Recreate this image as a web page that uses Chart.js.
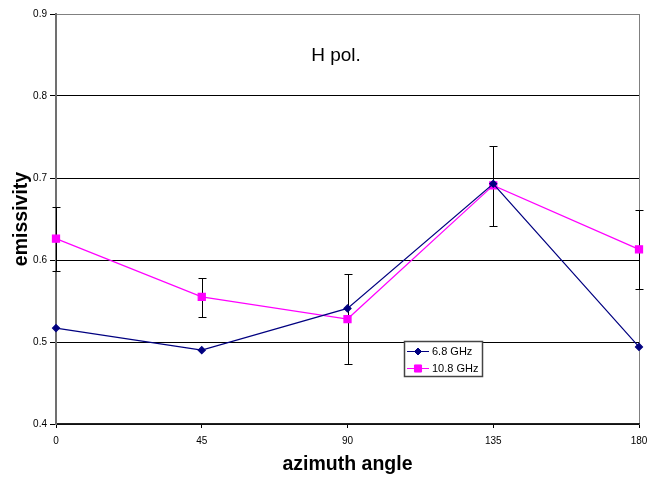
<!DOCTYPE html>
<html>
<head>
<meta charset="utf-8">
<script src="https://cdn.jsdelivr.net/npm/chart.js@4/dist/chart.umd.min.js"></script>
<style>
  body { margin: 0; background: #fff; }
  #grafico { display: block; }
</style>
</head>
<body>
<canvas id="grafico" width="659" height="479"></canvas>
<script>
// dados
const angulos = [0, 45, 90, 135, 180];
const emis68 = [0.517, 0.490, 0.541, 0.693, 0.494];
const emis108 = [0.626, 0.555, 0.528, 0.691, 0.613];
const erroAlto108 = [0.665, 0.578, 0.583, 0.739, 0.661];
const erroBaixo108 = [0.587, 0.531, 0.473, 0.642, 0.565];
const ticksX = [0, 45, 90, 135, 180];
const ticksY = [0.4, 0.5, 0.6, 0.7, 0.8, 0.9];

const FONTE = '"Liberation Sans", Arial, sans-serif';
const AZUL = "#000080";
const ROSA = "#FF00FF";

const pontos = (ys) => angulos.map((a, i) => ({ x: a, y: ys[i] }));

// barras de erro da série 10.8 GHz
const pluginErro = {
  id: "barrasErro",
  beforeDatasetsDraw(chart) {
    const { ctx, scales } = chart;
    ctx.save();
    ctx.strokeStyle = "#000";
    ctx.lineWidth = 1;
    angulos.forEach((a, i) => {
      const x = Math.round(scales.x.getPixelForValue(a)) + 0.5;
      const yA = Math.round(scales.y.getPixelForValue(erroAlto108[i])) + 0.5;
      const yB = Math.round(scales.y.getPixelForValue(erroBaixo108[i])) + 0.5;
      ctx.beginPath();
      ctx.moveTo(x, yA);
      ctx.lineTo(x, yB);
      ctx.moveTo(x - 4, yA);
      ctx.lineTo(x + 4, yA);
      ctx.moveTo(x - 4, yB);
      ctx.lineTo(x + 4, yB);
      ctx.stroke();
    });
    ctx.restore();
  },
};

// texto "H pol." e legenda dentro da área do gráfico
const pluginExtras = {
  id: "extras",
  afterDraw(chart) {
    const ctx = chart.ctx;
    ctx.save();
    ctx.fillStyle = "#000";
    ctx.font = "19px " + FONTE;
    ctx.textAlign = "center";
    ctx.textBaseline = "alphabetic";
    ctx.fillText("H pol.", 336, 61);

    // caixa da legenda
    ctx.fillStyle = "#fff";
    ctx.fillRect(404, 341, 78, 35);
    ctx.strokeStyle = "#444";
    ctx.lineWidth = 1.5;
    ctx.strokeRect(404.5, 341.5, 78, 35);

    chart.data.datasets.forEach((ds, i) => {
      const y = 351 + i * 17;
      ctx.strokeStyle = ds.borderColor;
      ctx.lineWidth = 1;
      ctx.beginPath();
      ctx.moveTo(407, y + 0.5);
      ctx.lineTo(429, y + 0.5);
      ctx.stroke();
      ctx.fillStyle = ds.pointBackgroundColor;
      ctx.strokeStyle = ds.pointBorderColor;
      Chart.helpers.drawPoint(
        ctx,
        { pointStyle: ds.pointStyle, radius: ds.pointRadius, rotation: 0, borderWidth: 1 },
        418,
        y + 0.5
      );
      ctx.fillStyle = "#000";
      ctx.font = "11px " + FONTE;
      ctx.textAlign = "left";
      ctx.textBaseline = "middle";
      ctx.fillText(ds.label, 432, y + 1);
    });
    ctx.restore();
  },
};

new Chart(document.getElementById("grafico").getContext("2d"), {
  type: "line",
  data: {
    datasets: [
      {
        label: "6.8 GHz",
        data: pontos(emis68),
        borderColor: AZUL,
        backgroundColor: AZUL,
        pointBackgroundColor: AZUL,
        pointBorderColor: AZUL,
        pointStyle: "rectRot",
        pointRadius: 3.5,
        borderWidth: 1.2,
        tension: 0,
        clip: false,
      },
      {
        label: "10.8 GHz",
        data: pontos(emis108),
        borderColor: ROSA,
        backgroundColor: ROSA,
        pointBackgroundColor: ROSA,
        pointBorderColor: ROSA,
        pointStyle: "rect",
        pointRadius: 5,
        borderWidth: 1.2,
        tension: 0,
        clip: false,
      },
    ],
  },
  options: {
    responsive: false,
    animation: false,
    layout: { padding: { left: 0, right: 20, top: 14, bottom: 0 } },
    plugins: {
      legend: { display: false },
      tooltip: { enabled: false },
    },
    scales: {
      x: {
        type: "linear",
        min: 0,
        max: 180,
        afterFit: (s) => { s.height = 55; },
        afterBuildTicks: (s) => { s.ticks = ticksX.map((v) => ({ value: v })); },
        ticks: {
          color: "#000",
          font: { family: FONTE, size: 10 },
          padding: 7,
          maxRotation: 0,
        },
        grid: {
          drawOnChartArea: true,
          color: (c) => (c.tick && c.tick.value === 180 ? "#808080" : "rgba(0,0,0,0)"),
          tickColor: "#000",
          tickLength: 4,
        },
        border: { color: "#222", width: 1.5 },
        title: {
          display: true,
          text: "azimuth angle",
          color: "#000",
          font: { family: FONTE, size: 19.5, weight: "bold" },
          padding: { top: 0, bottom: 3 },
        },
      },
      y: {
        min: 0.4,
        max: 0.9,
        afterFit: (s) => { s.width = 56; },
        afterBuildTicks: (s) => { s.ticks = ticksY.map((v) => ({ value: v })); },
        ticks: {
          color: "#000",
          font: { family: FONTE, size: 10 },
          padding: 3,
          callback: (v) => Number(v).toFixed(1),
        },
        grid: {
          color: (c) => (c.tick && c.tick.value >= 0.899 ? "#808080" : "#000"),
          tickColor: "#000",
          tickLength: 6,
          lineWidth: 1,
        },
        border: { color: "#707070", width: 2 },
        title: {
          display: true,
          text: "emissivity",
          color: "#000",
          font: { family: FONTE, size: 19.5, weight: "bold" },
          padding: { top: 10, bottom: 0 },
        },
      },
    },
  },
  plugins: [pluginErro, pluginExtras],
});
</script>
</body>
</html>
